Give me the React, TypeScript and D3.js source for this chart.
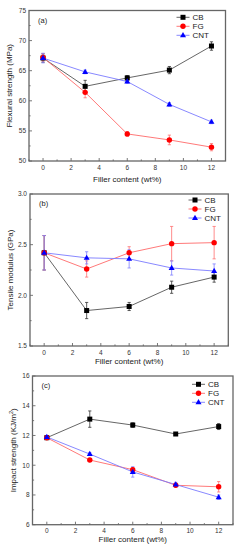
import React from 'react'
import * as d3 from 'd3'

// filler content (wt%)
const filler = [0, 3, 6, 9, 12]

// (a) flexural strength (MPa)
const flexCB = [67.1, 62.4, 63.8, 65.1, 69.1]
const flexCBErr = [0.7, 1.0, 0.4, 0.6, 0.7]
const flexFG = [67.2, 61.4, 54.5, 53.5, 52.3]
const flexFGErr = [0.6, 0.9, 0.4, 0.8, 0.6]
const flexCNT = [67.1, 64.8, 63.2, 59.4, 56.5]
const flexCNTErr = [0.8, 0.3, 0.3, 0.3, 0.3]

// (b) tensile modulus (GPa)
const tensCB = [2.42, 1.85, 1.89, 2.08, 2.18]
const tensCBErr = [0.17, 0.08, 0.04, 0.06, 0.05]
const tensFG = [2.42, 2.26, 2.42, 2.51, 2.52]
const tensFGErr = [0.17, 0.08, 0.06, 0.17, 0.16]
const tensCNT = [2.42, 2.37, 2.36, 2.27, 2.24]
const tensCNTErr = [0.17, 0.06, 0.09, 0.07, 0.07]

// (c) impact strength (KJ/m2)
const impCB = [11.85, 13.1, 12.7, 12.1, 12.6]
const impCBErr = [0.1, 0.55, 0.15, 0.05, 0.2]
const impFG = [11.85, 10.35, 9.7, 8.65, 8.55]
const impFGErr = [0.1, 0.1, 0.15, 0.1, 0.35]
const impCNT = [11.9, 10.75, 9.55, 8.7, 7.85]
const impCNTErr = [0.1, 0.1, 0.35, 0.15, 0.15]

const xTicks = [0, 2, 4, 6, 8, 10, 12]
const seriesNames = ['CB', 'FG', 'CNT']

const styles = [
  { line: '#555', mark: '#000', err: '#333', shape: 'square' },
  { line: '#ff6a6a', mark: '#ff0000', err: '#ff7070', shape: 'circle' },
  { line: '#7a7aff', mark: '#0000ff', err: '#8080ff', shape: 'triangle' },
]

const FONT = '"Liberation Sans", Arial, sans-serif'

function Marker({ x, y, shape, color }) {
  if (shape === 'square') return <rect x={x - 2.5} y={y - 2.5} width={5} height={5} fill={color} />
  if (shape === 'circle') return <circle cx={x} cy={y} r={2.7} fill={color} />
  return <path d={`M${x},${y - 3.2}L${x + 3},${y + 2}L${x - 3},${y + 2}Z`} fill={color} />
}

function Panel({ box, yDomain, yTicks, yMinor, yFmt, tag, ylabel, series, legend, labelY }) {
  const [l, t, r, b] = box
  const x = d3.scaleLinear().domain([-1, 13]).range([l, r])
  const y = d3.scaleLinear().domain(yDomain).range([b, t])
  const line = d3.line<number>().x((d, i) => x(filler[i])).y(d => y(d))
  const xMinor = d3.range(-1, 13.5, 1).filter(v => v % 2 !== 0 || v < 0)
  return (
    <g fontFamily={FONT}>
      {/* ticks */}
      {xTicks.map(v => <line key={'xt' + v} x1={x(v)} x2={x(v)} y1={b} y2={b - 3} stroke="#555" strokeWidth={0.8} />)}
      {xMinor.map(v => <line key={'xm' + v} x1={x(v)} x2={x(v)} y1={b} y2={b - 1.6} stroke="#555" strokeWidth={0.8} />)}
      {yTicks.map(v => <line key={'yt' + v} x1={l} x2={l + 3} y1={y(v)} y2={y(v)} stroke="#555" strokeWidth={0.8} />)}
      {yMinor.map(v => <line key={'ym' + v} x1={l} x2={l + 1.6} y1={y(v)} y2={y(v)} stroke="#555" strokeWidth={0.8} />)}
      {xTicks.map(v => (
        <text key={'xl' + v} x={x(v)} y={b + 8.5} fontSize={6.5} textAnchor="middle" fill="#333">{v}</text>
      ))}
      {yTicks.map(v => (
        <text key={'yl' + v} x={l - 3} y={y(v) + 2.3} fontSize={6.5} textAnchor="end" fill="#333">{yFmt(v)}</text>
      ))}
      <text x={(l + r) / 2} y={labelY} fontSize={8} textAnchor="middle" fill="#222">Filler content (wt%)</text>
      <text transform={`translate(${l - 17},${(t + b) / 2}) rotate(-90)`} fontSize={8} textAnchor="middle" fill="#222">{ylabel}</text>
      <text x={l + 9} y={t + 12} fontSize={7.5} fill="#222">{tag}</text>

      {/* series */}
      {series.map((s, k) => (
        <g key={'s' + k}>
          <path d={line(s.v)} fill="none" stroke={styles[k].line} strokeWidth={0.9} />
          {s.v.map((v, i) => {
            const cx = x(filler[i])
            const y1 = y(v - s.e[i]), y2 = y(v + s.e[i])
            return (
              <g key={i} stroke={styles[k].err} strokeWidth={0.8}>
                <line x1={cx} x2={cx} y1={y1} y2={y2} />
                <line x1={cx - 1.6} x2={cx + 1.6} y1={y1} y2={y1} />
                <line x1={cx - 1.6} x2={cx + 1.6} y1={y2} y2={y2} />
              </g>
            )
          })}
        </g>
      ))}
      {series.map((s, k) =>
        s.v.map((v, i) => (
          <Marker key={'m' + k + i} x={x(filler[i])} y={y(v)} shape={styles[k].shape} color={styles[k].mark} />
        ))
      )}

      {/* legend */}
      {seriesNames.map((n, k) => {
        const ly = legend[1] + k * 9
        return (
          <g key={'lg' + n}>
            <line x1={legend[0]} x2={legend[0] + 13} y1={ly} y2={ly} stroke={styles[k].line} strokeWidth={0.9} />
            <Marker x={legend[0] + 6.5} y={ly} shape={styles[k].shape} color={styles[k].mark} />
            <text x={legend[0] + 16} y={ly + 3} fontSize={8} fill="#222">{n}</text>
          </g>
        )
      })}

      <rect x={l} y={t} width={r - l} height={b - t} fill="none" stroke="#666" strokeWidth={1.3} />
    </g>
  )
}

export default function App() {
  return (
    <div style={{ position: 'absolute', left: 0, top: 0, background: '#fff' }}>
      <svg width={246} height={550} style={{ display: 'block' }}>
        <rect width={246} height={550} fill="#fff" />
        <Panel
          box={[29, 10.5, 225.5, 161]}
          yDomain={[50, 75]}
          yTicks={[50, 55, 60, 65, 70, 75]}
          yMinor={[52.5, 57.5, 62.5, 67.5, 72.5]}
          yFmt={d3.format('d')}
          tag="(a)"
          ylabel="Flexural strength (MPa)"
          labelY={182}
          legend={[176.5, 17.3]}
          series={[
            { v: flexCB, e: flexCBErr },
            { v: flexFG, e: flexFGErr },
            { v: flexCNT, e: flexCNTErr },
          ]}
        />
        <Panel
          box={[30, 194, 228.3, 346]}
          yDomain={[1.5, 3.0]}
          yTicks={[1.5, 2.0, 2.5, 3.0]}
          yMinor={[1.75, 2.25, 2.75]}
          yFmt={d3.format('.1f')}
          tag="(b)"
          ylabel="Tensile modulus (GPa)"
          labelY={363.5}
          legend={[188.5, 200]}
          series={[
            { v: tensCB, e: tensCBErr },
            { v: tensFG, e: tensFGErr },
            { v: tensCNT, e: tensCNTErr },
          ]}
        />
        <Panel
          box={[32.5, 376, 233, 524.7]}
          yDomain={[6, 16]}
          yTicks={[6, 8, 10, 12, 14, 16]}
          yMinor={[7, 9, 11, 13, 15]}
          yFmt={d3.format('d')}
          tag="(c)"
          ylabel={<>Impact strength (KJ/m<tspan dy={-3} fontSize={5.5}>2</tspan><tspan dy={3}>)</tspan></>}
          labelY={542}
          legend={[192, 384.3]}
          series={[
            { v: impCB, e: impCBErr },
            { v: impFG, e: impFGErr },
            { v: impCNT, e: impCNTErr },
          ]}
        />
      </svg>
    </div>
  )
}
